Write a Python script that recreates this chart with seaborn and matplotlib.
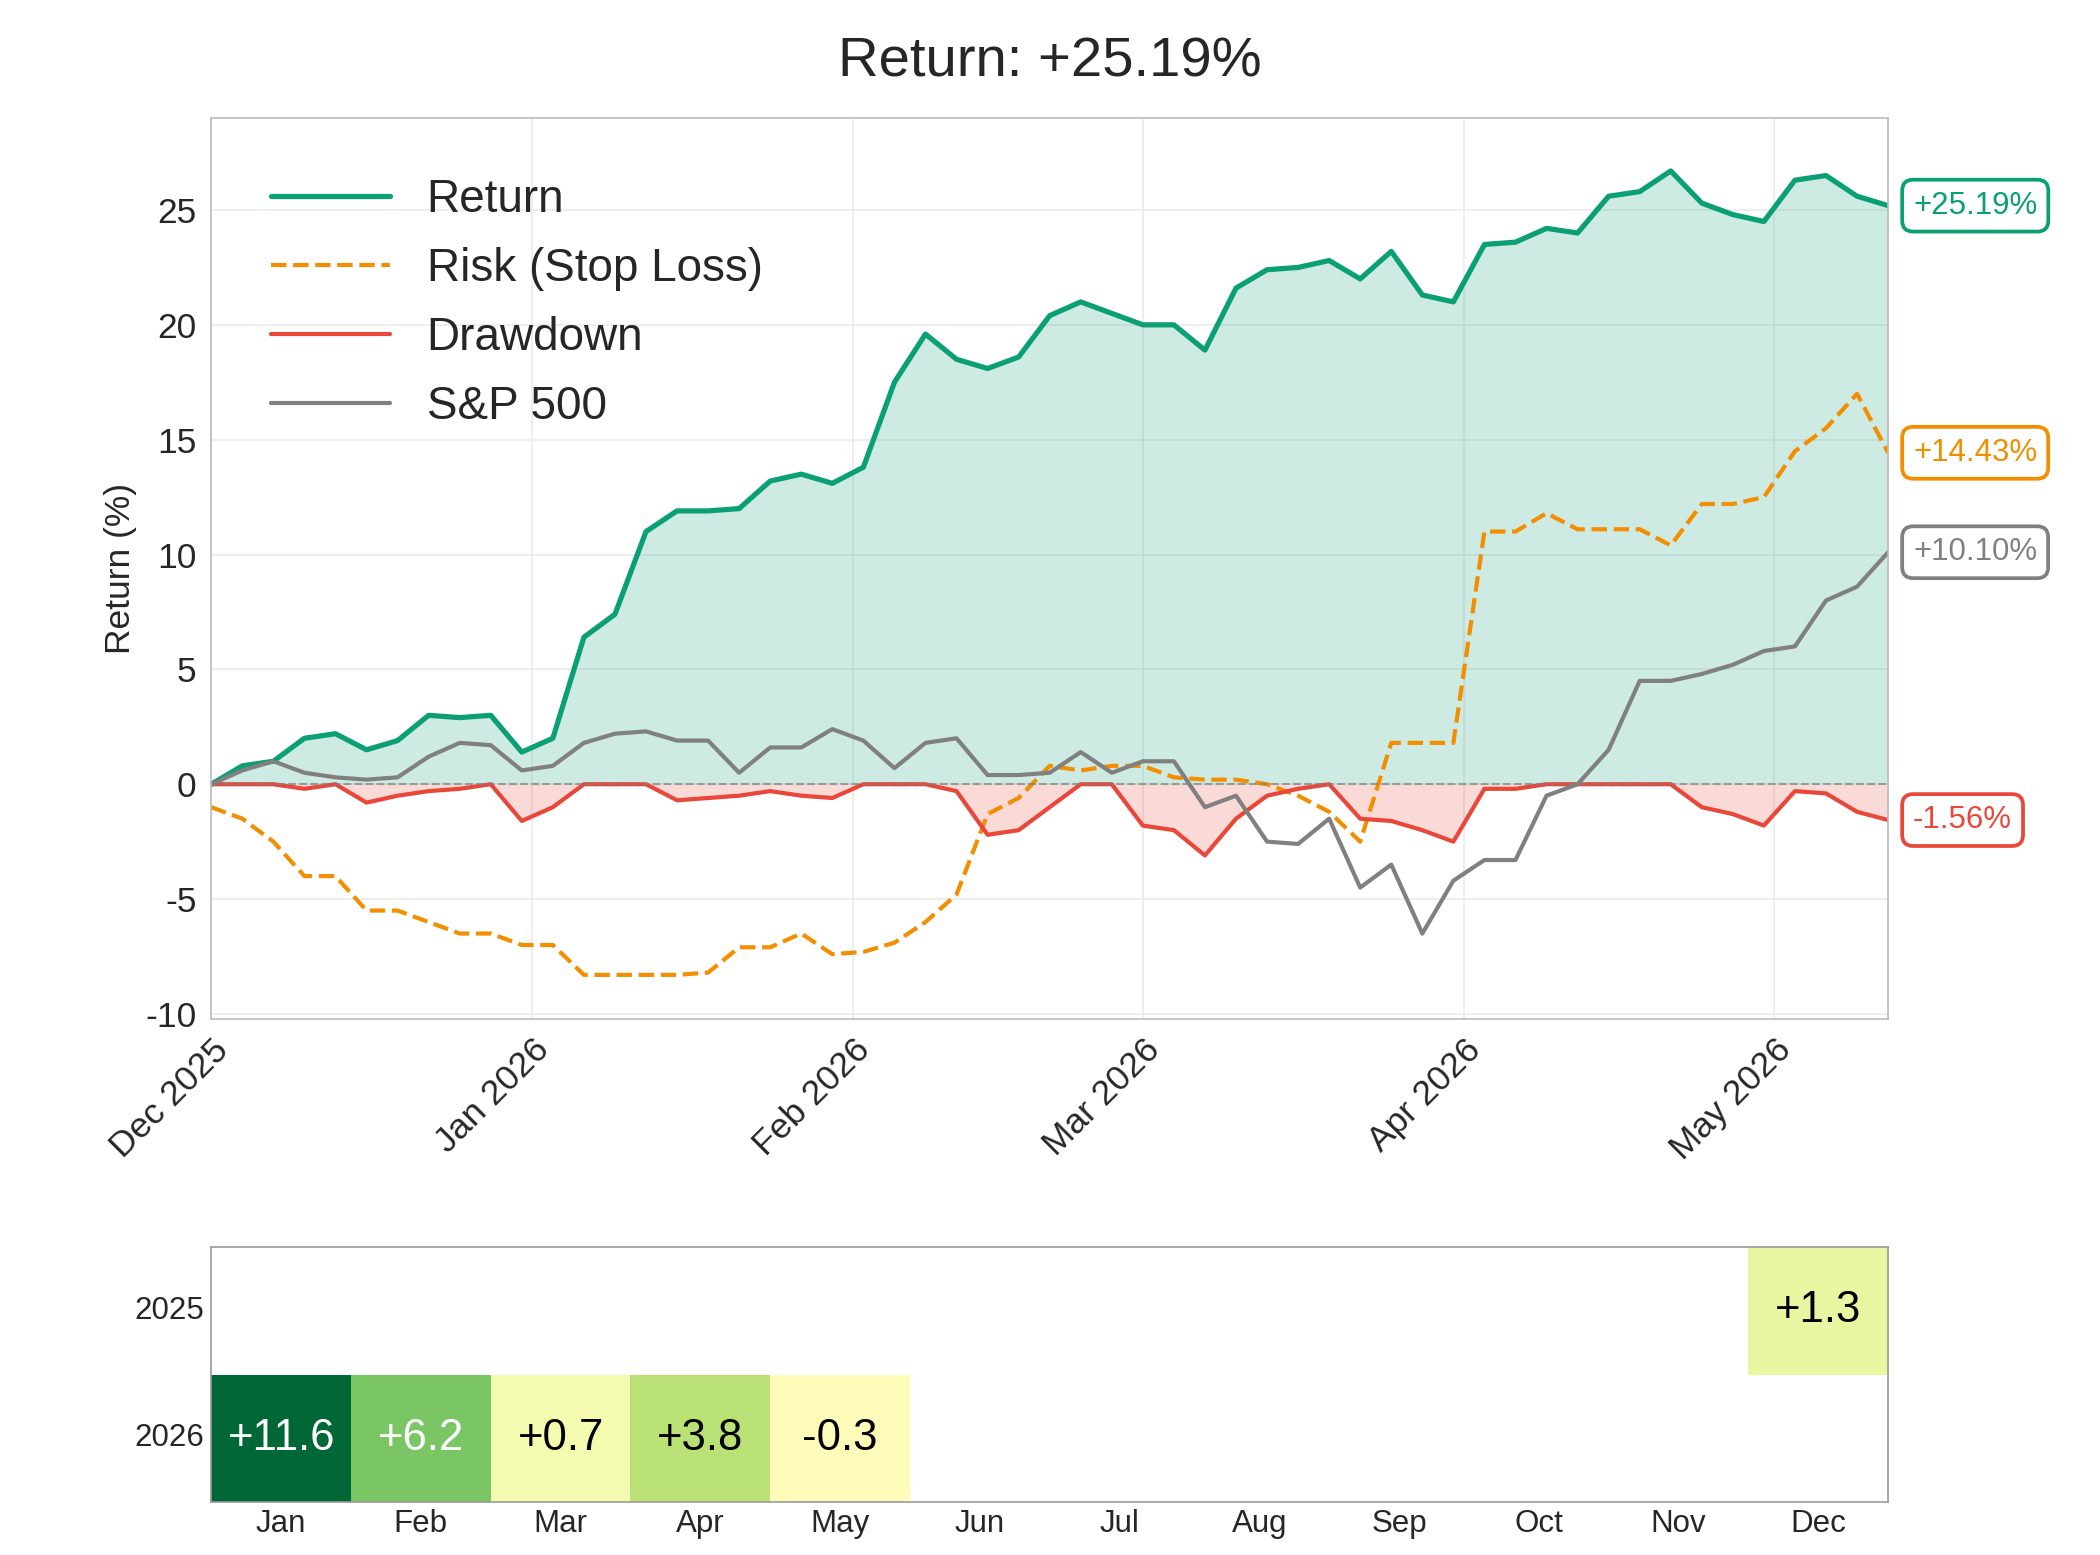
import numpy as np
import pandas as pd
import matplotlib
matplotlib.use("Agg")
import matplotlib.pyplot as plt
import matplotlib.dates as mdates
import seaborn as sns

# sampled every 3 days from 2025-12-01
dates = pd.date_range("2025-12-01", periods=55, freq="3D")
ret = [0, 0.8, 1.0, 2.0, 2.2, 1.5, 1.9, 3.0, 2.9, 3.0, 1.4, 2.0, 6.4, 7.4, 11.0, 11.9,
       11.9, 12.0, 13.2, 13.5, 13.1, 13.8, 17.5, 19.6, 18.5, 18.1, 18.6, 20.4, 21.0,
       20.5, 20.0, 20.0, 18.9, 21.6, 22.4, 22.5, 22.8, 22.0, 23.2, 21.3, 21.0, 23.5,
       23.6, 24.2, 24.0, 25.6, 25.8, 26.7, 25.3, 24.8, 24.5, 26.3, 26.5, 25.6, 25.19]
risk = [-1.0, -1.5, -2.5, -4.0, -4.0, -5.5, -5.5, -6.0, -6.5, -6.5, -7.0, -7.0, -8.3,
        -8.3, -8.3, -8.3, -8.2, -7.1, -7.1, -6.5, -7.4, -7.3, -6.9, -6.0, -4.8, -1.3,
        -0.6, 0.8, 0.6, 0.8, 0.8, 0.3, 0.2, 0.2, 0.0, -0.5, -1.2, -2.5, 1.8, 1.8, 1.8,
        11.0, 11.0, 11.8, 11.1, 11.1, 11.1, 10.4, 12.2, 12.2, 12.5, 14.5, 15.5, 17.0, 14.43]
drawdown = [0, 0, 0, -0.2, 0, -0.8, -0.5, -0.3, -0.2, 0, -1.6, -1.0, 0, 0, 0, -0.7,
            -0.6, -0.5, -0.3, -0.5, -0.6, 0, 0, 0, -0.3, -2.2, -2.0, -1.0, 0, 0, -1.8,
            -2.0, -3.1, -1.5, -0.5, -0.2, 0, -1.5, -1.6, -2.0, -2.5, -0.2, -0.2, 0, 0,
            0, 0, 0, -1.0, -1.3, -1.8, -0.3, -0.4, -1.2, -1.56]
spx = [0, 0.6, 1.0, 0.5, 0.3, 0.2, 0.3, 1.2, 1.8, 1.7, 0.6, 0.8, 1.8, 2.2, 2.3, 1.9,
       1.9, 0.5, 1.6, 1.6, 2.4, 1.9, 0.7, 1.8, 2.0, 0.4, 0.4, 0.5, 1.4, 0.5, 1.0, 1.0,
       -1.0, -0.5, -2.5, -2.6, -1.5, -4.5, -3.5, -6.5, -4.2, -3.3, -3.3, -0.5, 0.0,
       1.5, 4.5, 4.5, 4.8, 5.2, 5.8, 6.0, 8.0, 8.6, 10.10]

years = ["2025", "2026"]
months = ["Jan", "Feb", "Mar", "Apr", "May", "Jun", "Jul", "Aug", "Sep", "Oct", "Nov", "Dec"]
monthly_2025 = [np.nan] * 11 + [1.3]
monthly_2026 = [11.6, 6.2, 0.7, 3.8, -0.3] + [np.nan] * 7

sns.set_style("whitegrid")
plt.rcParams["font.family"] = ["Arial", "Liberation Sans", "DejaVu Sans"]
plt.rcParams["axes.unicode_minus"] = False

df = pd.DataFrame({"date": dates, "ret": ret, "risk": risk, "dd": drawdown, "spx": spx})

fig = plt.figure(figsize=(14, 10.367), dpi=150)
ax = fig.add_axes([0.1006, 0.345, 0.7985, 0.579])

c_ret, c_risk, c_dd, c_spx = "#0a9f75", "#f28e00", "#e8473a", "#808080"
sns.lineplot(data=df, x="date", y="ret", color=c_ret, lw=2.5, label="Return", ax=ax)
sns.lineplot(data=df, x="date", y="risk", color=c_risk, lw=2, ls="--", label="Risk (Stop Loss)", ax=ax)
sns.lineplot(data=df, x="date", y="dd", color=c_dd, lw=2, label="Drawdown", ax=ax)
sns.lineplot(data=df, x="date", y="spx", color=c_spx, lw=2, label="S&P 500", ax=ax)
ax.fill_between(df["date"], df["ret"], 0, where=df["ret"] >= 0, color=c_ret, alpha=0.2, lw=0)
ax.fill_between(df["date"], df["dd"], 0, color=c_dd, alpha=0.2, lw=0)
ax.axhline(0, color="gray", ls="--", lw=1, alpha=0.7)

ax.set_xlim(dates[0], dates[-1])
ax.set_ylim(-10.2, 29)
ax.set_yticks(range(-10, 30, 5))
ax.xaxis.set_major_locator(mdates.MonthLocator())
ax.xaxis.set_major_formatter(mdates.DateFormatter("%b %Y"))
plt.setp(ax.get_xticklabels(), rotation=45, ha="right", rotation_mode="anchor")
ax.tick_params(labelsize=17)
ax.set_xlabel("")
ax.set_ylabel("Return (%)", fontsize=17)
ax.grid(color="#ebebeb")
for s in ax.spines.values():
    s.set_color("#bbbbbb")
ax.legend(loc="upper left", fontsize=22, frameon=False, borderaxespad=0.9,
          handlelength=2.6, labelspacing=0.55)
ax.set_title("Return: +25.19%", fontsize=27, pad=20)

for vals, col in [(ret, c_ret), (risk, c_risk), (spx, c_spx), (drawdown, c_dd)]:
    v = vals[-1]
    ax.annotate(f"{v:+.2f}%", xy=(dates[-1], v), xytext=(12, 0), textcoords="offset points",
                va="center", ha="left", fontsize=15, color=col, annotation_clip=False,
                bbox=dict(boxstyle="round,pad=0.35", fc="white", ec=col, lw=1.8))

# monthly heatmap
hax = fig.add_axes([0.1006, 0.034, 0.7985, 0.164])
hm = pd.DataFrame([monthly_2025, monthly_2026], index=years, columns=months)
sns.heatmap(hm, cmap="RdYlGn", vmin=-11.6, vmax=11.6, cbar=False, ax=hax, linewidths=0)
hax.grid(False)
for i, y in enumerate(years):
    for j, m in enumerate(months):
        v = hm.loc[y, m]
        if not np.isnan(v):
            hax.text(j + 0.5, i + 0.5, f"{v:+.1f}", ha="center", va="center", fontsize=21,
                     color="white" if abs(v) > 5 else "black")
hax.tick_params(labelsize=15, length=0, rotation=0)
hax.set_xlabel("")
hax.set_ylabel("")
for s in hax.spines.values():
    s.set_visible(True)
    s.set_color("#999999")

fig.savefig("out.png", dpi=150)
